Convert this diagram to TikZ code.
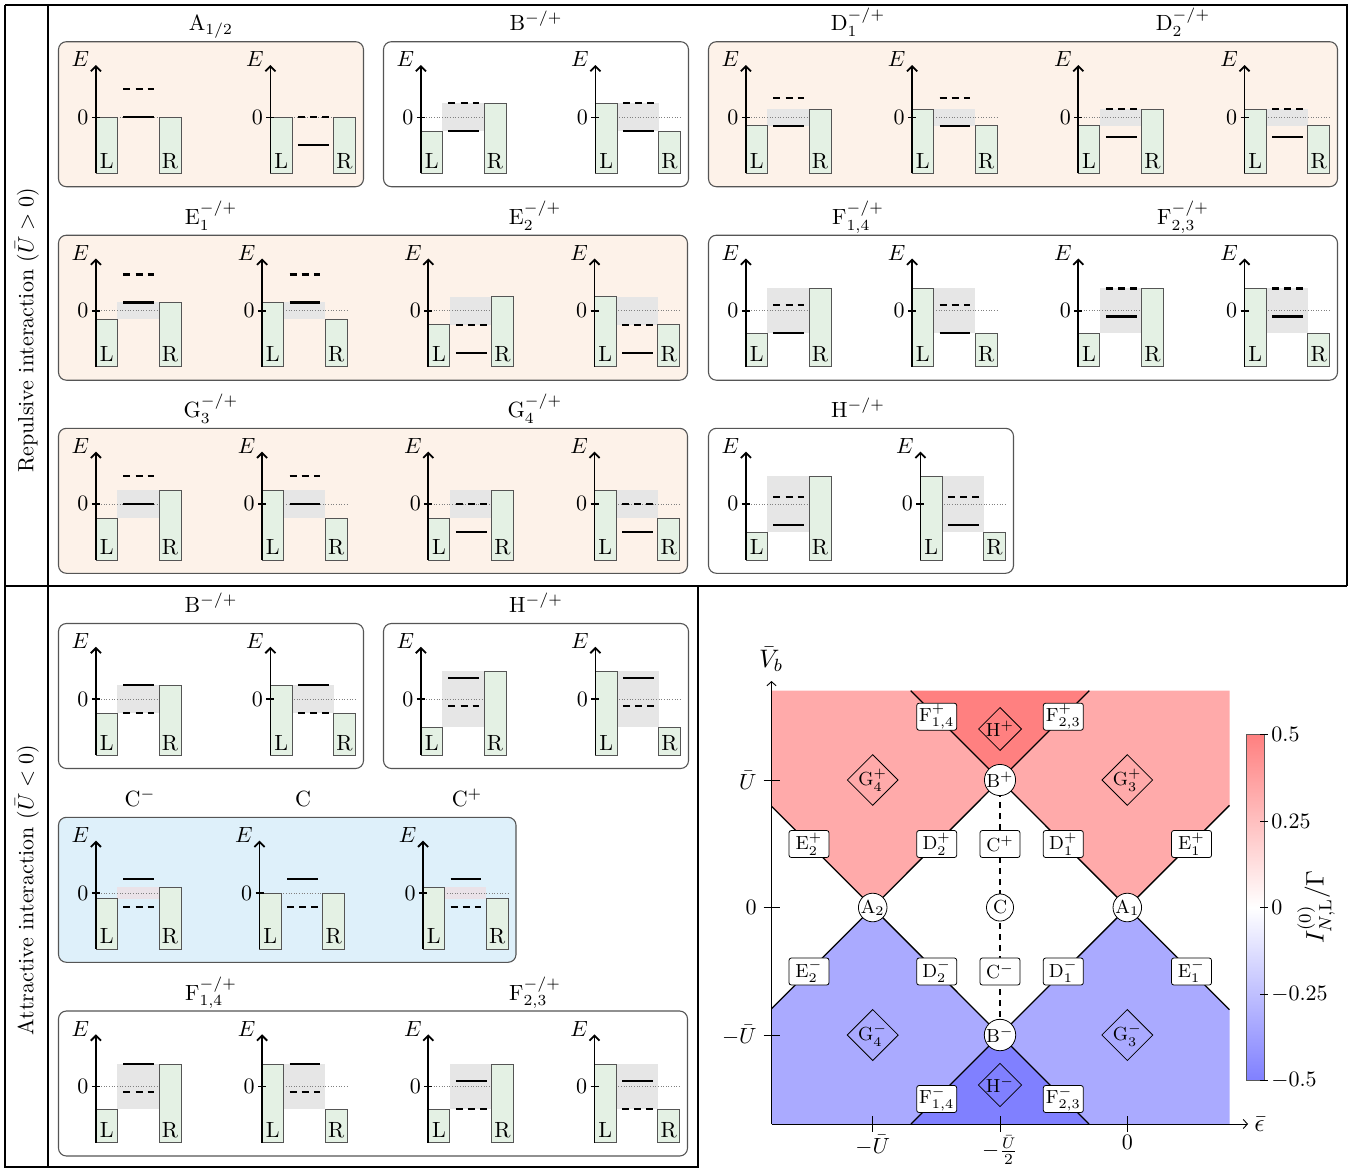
\RequirePackage{fix-cm}
\documentclass[tikz,border=0pt]{standalone}
\usepackage{amsmath}
\usetikzlibrary{shapes.geometric,arrows.meta}
\definecolor{peach}{RGB}{253,242,233}
\definecolor{lblue}{RGB}{222,240,250}
\definecolor{boxgreen}{RGB}{228,241,228}
\definecolor{bandgray}{RGB}{230,230,230}
\definecolor{bandpink}{RGB}{234,226,232}
\definecolor{pborder}{RGB}{85,85,85}
\definecolor{pinkA}{RGB}{255,170,170}
\definecolor{pinkB}{RGB}{255,128,128}
\definecolor{blueA}{RGB}{170,170,255}
\definecolor{blueB}{RGB}{128,128,255}
\tikzset{
  panel/.style={draw=pborder, line width=0.5pt, rounded corners=3.6pt},
  ebox/.style={draw=pborder, fill=boxgreen, line width=0.36pt},
  zeroline/.style={gray, line width=0.32pt, dash pattern=on 0.45pt off 0.75pt},
  eaxis/.style={line width=0.82pt, -{Straight Barb[length=2.3pt,width=4.6pt]}},
  lvs/.style={line width=1pt},
  lvd/.style={line width=1pt, dash pattern=on 3.2pt off 2.3pt},
  lbl/.style={inner sep=0pt, font=\normalsize},
  ttl/.style={inner sep=0pt, anchor=base, font=\normalsize},
  tbl/.style={line width=0.5pt},
  pline/.style={line width=0.6pt},
  plb/.style={draw, rounded corners=1.1pt, fill=white, minimum width=18.2pt, minimum height=12.3pt, inner sep=0.5pt, line width=0.36pt, font=\fontsize{8.6}{10}\selectfont},
  plc/.style={circle, draw, fill=white, minimum size=12.3pt, inner sep=0pt, line width=0.36pt, font=\fontsize{8.6}{10}\selectfont},
  pld/.style={diamond, aspect=1, draw, inner sep=0pt, line width=0.36pt, font=\fontsize{8.6}{10}\selectfont},
  tkl/.style={inner sep=0pt, font=\normalsize},
  axl/.style={inner sep=0pt, font=\fontsize{11.5}{13}\selectfont},
  phax/.style={line width=0.41pt, -{Straight Barb[length=1.9pt,width=4.2pt]}},
  phtick/.style={line width=0.41pt},
}
\def\bandcol{bandgray}
% #1 id, #2 axis x, #3 panel top, #4 L top, #5 R top, #6 solid level, #7 dashed level (units of 14px)
\newcommand\minidia[7]{%
  \pgfmathsetmacro\za{#3+75.6}%
  \pgfmathsetmacro\bb{#3+131.6}%
  \pgfmathsetmacro\yl{\za-(#4)*14}%
  \pgfmathsetmacro\yr{\za-(#5)*14}%
  \pgfmathsetmacro\ys{\za-(#6)*14}%
  \pgfmathsetmacro\yd{\za-(#7)*14}%
  \pgfmathsetmacro\xa{#2}%
  \fill[\bandcol] (\xa+21.5,\yl) rectangle (\xa+63.3,\yr);
  \draw[zeroline] (\xa,\za) -- (\xa+85,\za);
  \draw[ebox] (\xa,\bb) rectangle (\xa+21.5,\yl);
  \draw[ebox] (\xa+63.3,\bb) rectangle (\xa+85,\yr);
  \draw[eaxis] (\xa,\bb) -- (\xa,#3+23.3);
  \draw[line width=0.68pt] (\xa-4,\za) -- (\xa+4,\za);
  \draw[lvs] (\xa+27.5,\ys) -- (\xa+58.3,\ys);
  \draw[lvd] (\xa+27.5,\yd) -- (\xa+58.3,\yd);
  \node[lbl, anchor=base] (#1E) at (\xa-15.5,#3+25) {$E$};
  \node[lbl, anchor=east] (#1Z) at (\xa-7,\za) {0};
  \node[lbl, anchor=base] (#1L) at (\xa+10.75,\bb-5) {L};
  \node[lbl, anchor=base] (#1R) at (\xa+74.15,\bb-5) {R};
}
\begin{document}
\begin{tikzpicture}[x=0.454545pt,y=-0.454545pt]
\useasboundingbox (0,0) rectangle (1365,1170);
\fill[white] (0,0) rectangle (1365,1170);
% table
\draw[tbl] (5,5) -- (1347,5) -- (1347,586);
\draw[tbl] (5,5) -- (5,1167) -- (698,1167) -- (698,586);
\draw[tbl] (5,586) -- (1347,586);
\draw[tbl] (48,5) -- (48,1167);
\node[lbl, rotate=90] (rep) at (27,330) {Repulsive interaction ($\bar{U}>0$)};
\node[lbl, rotate=90] (att) at (27,890) {Attractive interaction ($\bar{U}<0$)};
% ---------- row 1
\draw[panel, fill=peach] (58.5,41.7) rectangle (363.5,186.7);
\draw[panel, fill=white] (383.5,41.7) rectangle (688.5,186.7);
\draw[panel, fill=peach] (708.5,41.7) rectangle (1337.5,186.7);
\node[ttl] (tA) at (211,30.7) {A$_{1/2}$};
\node[ttl] (tB) at (536,30.7) {B$^{-/+}$};
\node[ttl] (tD1) at (858,30.7) {D$_1^{-/+}$};
\node[ttl] (tD2) at (1183,30.7) {D$_2^{-/+}$};
\minidia{a1}{95.9}{41.7}{0}{0}{0}{2}
\minidia{a2}{270.4}{41.7}{0}{0}{-2}{0}
\minidia{b1}{420.9}{41.7}{-1}{1}{-1}{1}
\minidia{b2}{595.4}{41.7}{1}{-1}{-1}{1}
\minidia{d1}{745.9}{41.7}{-0.6}{0.6}{-0.6}{1.4}
\minidia{d2}{912.1}{41.7}{0.6}{-0.6}{-0.6}{1.4}
\minidia{d3}{1078.3}{41.7}{-0.6}{0.6}{-1.4}{0.6}
\minidia{d4}{1244.5}{41.7}{0.6}{-0.6}{-1.4}{0.6}
% ---------- row 2
\draw[panel, fill=peach] (58.5,235.2) rectangle (687.5,380.2);
\draw[panel, fill=white] (708.5,235.2) rectangle (1337.5,380.2);
\node[ttl] (tE1) at (211,224.2) {E$_1^{-/+}$};
\node[ttl] (tE2) at (535,224.2) {E$_2^{-/+}$};
\node[ttl] (tF14) at (858,224.2) {F$_{1,4}^{-/+}$};
\node[ttl] (tF23) at (1183,224.2) {F$_{2,3}^{-/+}$};
\minidia{e1}{95.9}{235.2}{-0.6}{0.6}{0.6}{2.6}
\minidia{e2}{262.1}{235.2}{0.6}{-0.6}{0.6}{2.6}
\minidia{e3}{428.3}{235.2}{-1}{1}{-3}{-1}
\minidia{e4}{594.5}{235.2}{1}{-1}{-3}{-1}
\minidia{f1}{745.9}{235.2}{-1.6}{1.6}{-1.6}{0.4}
\minidia{f2}{912.1}{235.2}{1.6}{-1.6}{-1.6}{0.4}
\minidia{f3}{1078.3}{235.2}{-1.6}{1.6}{-0.4}{1.6}
\minidia{f4}{1244.5}{235.2}{1.6}{-1.6}{-0.4}{1.6}
% ---------- row 3
\draw[panel, fill=peach] (58.5,428.3) rectangle (687.5,573.3);
\draw[panel, fill=white] (708.5,428.3) rectangle (1013.5,573.3);
\node[ttl] (tG3) at (211,417.3) {G$_3^{-/+}$};
\node[ttl] (tG4) at (535,417.3) {G$_4^{-/+}$};
\node[ttl] (tH) at (858,417.3) {H$^{-/+}$};
\minidia{g1}{95.9}{428.3}{-1}{1}{0}{2}
\minidia{g2}{262.1}{428.3}{1}{-1}{0}{2}
\minidia{g3}{428.3}{428.3}{-1}{1}{-2}{0}
\minidia{g4}{594.5}{428.3}{1}{-1}{-2}{0}
\minidia{h1}{745.9}{428.3}{-2}{2}{-1.5}{0.5}
\minidia{h2}{920.4}{428.3}{2}{-2}{-1.5}{0.5}
% ---------- row 4
\draw[panel, fill=white] (58.5,623.5) rectangle (363.5,768.5);
\draw[panel, fill=white] (383.5,623.5) rectangle (688.5,768.5);
\node[ttl] (tBb) at (211,612.5) {B$^{-/+}$};
\node[ttl] (tHb) at (536,612.5) {H$^{-/+}$};
\minidia{bb1}{95.9}{623.5}{-1}{1}{1}{-1}
\minidia{bb2}{270.4}{623.5}{1}{-1}{1}{-1}
\minidia{hb1}{420.9}{623.5}{-2}{2}{1.5}{-0.5}
\minidia{hb2}{595.4}{623.5}{2}{-2}{1.5}{-0.5}
% ---------- row 5
\draw[panel, fill=lblue] (58.5,817.3) rectangle (516,962.3);
\node[ttl] (tCm) at (140,806.3) {C$^{-}$};
\node[ttl] (tC) at (303,806.3) {C};
\node[ttl] (tCp) at (467,806.3) {C$^{+}$};
\def\bandcol{bandpink}
\minidia{c1}{95.9}{817.3}{-0.4}{0.4}{1}{-1}
\minidia{c2}{259.5}{817.3}{0}{0}{1}{-1}
\minidia{c3}{423.1}{817.3}{0.4}{-0.4}{1}{-1}
\def\bandcol{bandgray}
% ---------- row 6
\draw[panel, fill=white] (58.5,1011) rectangle (687.5,1156);
\node[ttl] (tFb14) at (211,1000) {F$_{1,4}^{-/+}$};
\node[ttl] (tFb23) at (535,1000) {F$_{2,3}^{-/+}$};
\minidia{fb1}{95.9}{1011}{-1.6}{1.6}{1.6}{-0.4}
\minidia{fb2}{262.1}{1011}{1.6}{-1.6}{1.6}{-0.4}
\minidia{fb3}{428.3}{1011}{-1.6}{1.6}{0.4}{-1.6}
\minidia{fb4}{594.5}{1011}{1.6}{-1.6}{0.4}{-1.6}
% ---------- phase diagram
\coordinate (pA2) at (872.7,907.5);
\coordinate (pA1) at (1127.3,907.5);
\coordinate (pC) at (1000,907.5);
\coordinate (pBp) at (1000,780);
\coordinate (pBm) at (1000,1035);
\coordinate (tl) at (771.5,690.7);
\coordinate (tr) at (1229.5,690.7);
\coordinate (bl) at (771.5,1124);
\coordinate (br) at (1229.5,1124);
\coordinate (t1) at (910.7,690.7);
\coordinate (t2) at (1089.3,690.7);
\coordinate (b1) at (911,1124);
\coordinate (b2) at (1089,1124);
\coordinate (l1) at (771.5,806.3);
\coordinate (l2) at (771.5,1008.7);
\coordinate (r1) at (1229.5,805.3);
\coordinate (r2) at (1229.5,1009.7);
\fill[pinkA] (tl) -- (t1) -- (pBp) -- (pA2) -- (l1) -- cycle;
\fill[pinkB] (t1) -- (t2) -- (pBp) -- cycle;
\fill[pinkA] (t2) -- (tr) -- (r1) -- (pA1) -- (pBp) -- cycle;
\fill[blueA] (l2) -- (pA2) -- (pBm) -- (b1) -- (bl) -- cycle;
\fill[blueB] (pBm) -- (b2) -- (b1) -- cycle;
\fill[blueA] (pBm) -- (pA1) -- (r2) -- (br) -- (b2) -- cycle;
\draw[pline] (l1) -- (pA2) -- (pBm) -- (b2);
\draw[pline] (l2) -- (pA2) -- (pBp) -- (t2);
\draw[pline] (t1) -- (pBp) -- (pA1) -- (r2);
\draw[pline] (b1) -- (pBm) -- (pA1) -- (r1);
\draw[pline, dash pattern=on 2.7pt off 2.3pt] (pBp) -- (pBm);
% axes
\coordinate (yax1) at (771.5,681);
\coordinate (xax1) at (1248,1124);
\draw[phax] (bl) -- (yax1);
\draw[phax] (bl) -- (xax1);
\node[axl] (vb) at (771,659) {$\bar{V}_b$};
\node[axl, anchor=west] (eps) at (1254,1124) {$\bar{\epsilon}$};
\draw[phtick] (763.5,780) -- (779.5,780);
\draw[phtick] (763.5,907.5) -- (779.5,907.5);
\draw[phtick] (763.5,1035) -- (779.5,1035);
\node[tkl, anchor=east] (yU) at (757,780) {$\bar{U}$};
\node[tkl, anchor=east] (y0) at (757,907.5) {$0$};
\node[tkl, anchor=east] (ymU) at (757,1035) {$-\bar{U}$};
\draw[phtick] (872.7,1116) -- (872.7,1132);
\draw[phtick] (1000,1116) -- (1000,1132);
\draw[phtick] (1127.3,1116) -- (1127.3,1132);
\node[tkl, anchor=north] (xmU) at (872.7,1135) {$-\bar{U}$};
\node[tkl, anchor=north] (xmU2) at (1000,1135) {$-\frac{\bar{U}}{2}$};
\node[tkl, anchor=north] (x0) at (1127.3,1135) {$0$};
% region labels
\node[plc] (A2) at (pA2) {A$_2$};
\node[plc] (A1) at (pA1) {A$_1$};
\node[plc] (C) at (pC) {C};
\node[plc] (Bp) at (pBp) {B$^+$};
\node[plc] (Bm) at (pBm) {B$^-$};
\node[plb] (F14p) at (936.7,716.7) {F$^+_{1,4}$};
\node[plb] (F23p) at (1063.3,716.7) {F$^+_{2,3}$};
\node[pld] (Hp) at (1000,729) {H$^+$};
\node[pld] (G4p) at (872.7,780) {G$^+_4$};
\node[pld] (G3p) at (1127.3,780) {G$^+_3$};
\node[plb] (E2p) at (809,844) {E$^+_2$};
\node[plb] (D2p) at (936.7,844) {D$^+_2$};
\node[plb] (Cp) at (1000,844) {C$^+$};
\node[plb] (D1p) at (1063.3,844) {D$^+_1$};
\node[plb] (E1p) at (1191.5,844) {E$^+_1$};
\node[plb] (E2m) at (809,971.5) {E$^-_2$};
\node[plb] (D2m) at (936.7,971.5) {D$^-_2$};
\node[plb] (Cm) at (1000,971.5) {C$^-$};
\node[plb] (D1m) at (1063.3,971.5) {D$^-_1$};
\node[plb] (E1m) at (1191.5,971.5) {E$^-_1$};
\node[pld] (G4m) at (872.7,1035) {G$^-_4$};
\node[pld] (G3m) at (1127.3,1035) {G$^-_3$};
\node[pld] (Hm) at (1000,1085) {H$^-$};
\node[plb] (F14m) at (936.7,1099) {F$^-_{1,4}$};
\node[plb] (F23m) at (1063.3,1099) {F$^-_{2,3}$};
% colour bar
\shade[top color=red!50, bottom color=blue!50, middle color=white] (1246.7,734) rectangle (1264,1080.7);
\draw[draw=gray!70!black, line width=0.36pt] (1246.7,734) rectangle (1264,1080.7);
\foreach \yy in {734,821.3,907.3,994,1080.7} \draw[phtick] (1260,\yy) -- (1268,\yy);
\node[tkl, anchor=west] (c05) at (1271,734) {$0.5$};
\node[tkl, anchor=west] (c025) at (1271,821.3) {$0.25$};
\node[tkl, anchor=west] (c0) at (1271,907.3) {$0$};
\node[tkl, anchor=west] (cm025) at (1271,994) {$-0.25$};
\node[tkl, anchor=west] (cm05) at (1271,1080.7) {$-0.5$};
\node[axl, rotate=90] (cbl) at (1316,907) {$I^{(0)}_{N,\mathrm{L}}/\Gamma$};
\end{tikzpicture}
\end{document}
